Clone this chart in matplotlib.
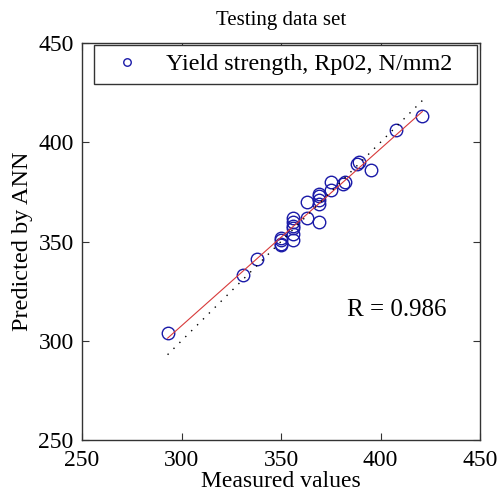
import numpy as np
import matplotlib
matplotlib.use('Agg')
import matplotlib.pyplot as plt

plt.rcParams['font.family'] = ['Liberation Serif', 'DejaVu Serif']

# measured vs predicted (testing set)
measured = [293, 331, 338, 350, 350, 350, 350, 356, 356, 356, 356, 356, 356,
            363, 363, 369, 369, 369, 369, 369, 375, 375, 381, 382, 388, 389,
            395, 408, 421]
predicted = [304, 333, 341, 348, 349, 351, 352, 351, 354, 357, 358, 360, 362,
             362, 370, 360, 369, 371, 373, 374, 376, 380, 379, 380, 389, 390,
             386, 406, 413]
r_value = 0.986
legend_label = 'Yield strength, Rp02, N/mm2'

x = np.array(measured, dtype=float)
y = np.array(predicted, dtype=float)
slope, intercept = np.polyfit(x, y, 1)
xx = np.array([x.min(), x.max()])

fig = plt.figure(figsize=(4.98, 4.99), dpi=100)
ax = fig.add_axes([0.1647, 0.1182, 0.7992, 0.7956])

ax.plot(x, y, 'o', mfc='none', mec='#1a1aa8', ms=9, mew=1.0, label=legend_label)
ax.plot(xx, slope * xx + intercept, '-', color='#d83a3a', lw=0.8)
ax.plot(xx, xx, color='black', lw=1.0, ls=(0, (1, 5)))

ax.set_xlim(250, 450)
ax.set_ylim(250, 450)
ax.set_xticks([250, 300, 350, 400, 450])
ax.set_yticks([250, 300, 350, 400, 450])
ax.tick_params(direction='in', top=True, right=True, length=5, labelsize=17,
               color='#333333')
ax.tick_params(axis='x', pad=7)
ax.tick_params(axis='y', pad=6)
for s in ax.spines.values():
    s.set_color('#333333')
    s.set_linewidth(1.0)

ax.set_xlabel('Measured values', fontsize=17, labelpad=0)
ax.set_ylabel('Predicted by ANN', fontsize=17.5, labelpad=4)
ax.set_title('Testing data set', fontsize=15, pad=13)

ax.text(383, 315.5, 'R = %.3f' % r_value, fontsize=18, va='center', ha='left')

leg = ax.legend(loc='upper left', bbox_to_anchor=(0.030, 0.0, 0.962, 0.995),
                mode='expand', borderaxespad=0, fontsize=17.4, fancybox=False,
                framealpha=1, edgecolor='#333333', handletextpad=0.64,
                handlelength=2.0, borderpad=0.35, markerscale=0.6)
leg.get_frame().set_linewidth(1.0)

fig.savefig('out.png', dpi=100)
